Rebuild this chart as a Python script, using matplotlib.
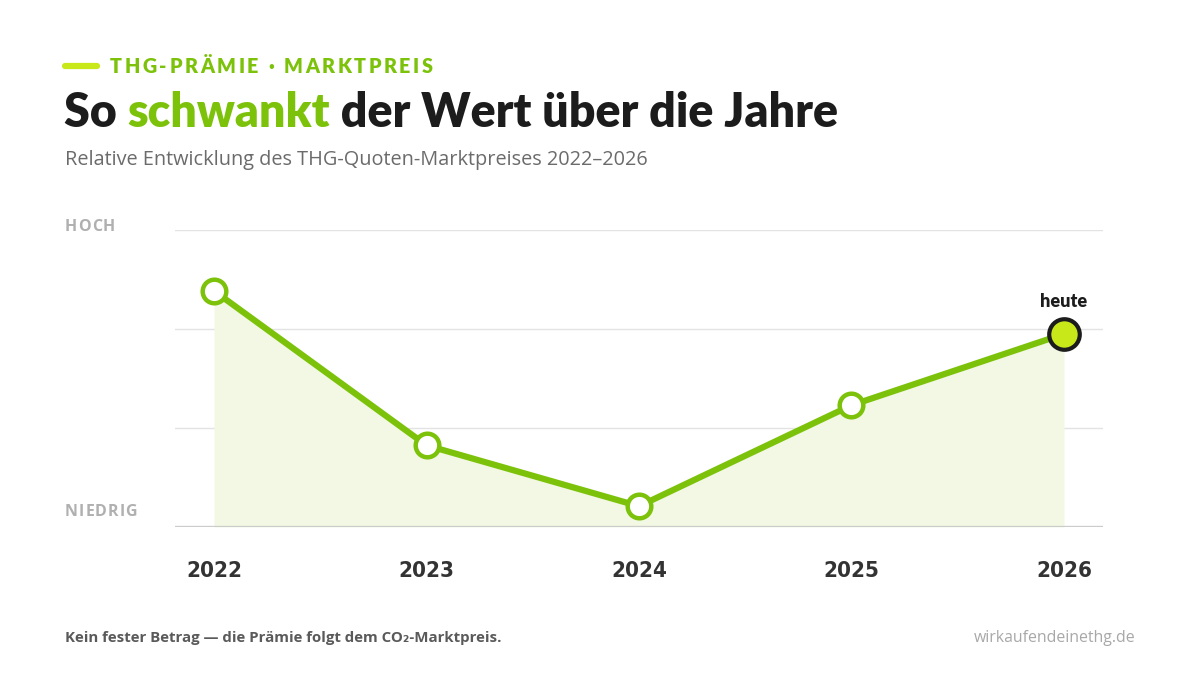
import matplotlib
matplotlib.use("Agg")
import matplotlib.pyplot as plt
from matplotlib.lines import Line2D

# ---- data ----
years = [2022, 2023, 2024, 2025, 2026]
values = [79.5, 27.5, 7.0, 41.0, 65.0]   # relative market price (0 = niedrig, 100 = hoch)
year_labels = ["2022", "2023", "2024", "2025", "2026"]
kicker = "THG-PRÄMIE · MARKTPREIS"
title_parts = ["So ", "schwankt", " der Wert über die Jahre"]
subtitle = "Relative Entwicklung des THG-Quoten-Marktpreises 2022–2026"
label_high = "HOCH"
label_low = "NIEDRIG"
footer_left = "Kein fester Betrag — die Prämie folgt dem CO₂-Marktpreis."
footer_right = "wirkaufendeinethg.de"
today_label = "heute"

GREEN = "#7cc20a"
LIME = "#c8e81a"
FILL = "#f2f8e4"
DARK = "#1c1c1c"

W, H = 1200, 675
fig = plt.figure(figsize=(W / 100, H / 100), dpi=100)
fig.patch.set_facecolor("white")
renderer = fig.canvas.get_renderer()


def px(x, y):
    return x / W, 1 - y / H


def width_px(s, **kw):
    t = fig.text(0, 0, s, **kw)
    w = t.get_window_extent(renderer).width
    t.remove()
    return w


def advance(s, **kw):
    return width_px("|" + s + "|", **kw) - width_px("||", **kw)


def spaced_text(x, y, s, spacing, **kw):
    for ch in s:
        fig.text(*px(x, y), ch, va="baseline", ha="left", **kw)
        x += advance(ch, **kw) + spacing
    return x


# ---- header ----
fig.add_artist(Line2D([65 / W, 97 / W], [1 - 66 / H, 1 - 66 / H], color=LIME,
                      lw=4.5, solid_capstyle="round", transform=fig.transFigure))
spaced_text(110, 73, kicker, 2.6, fontsize=14.2, fontweight="heavy",
            family=["Lato", "DejaVu Sans"], color=GREEN)

tkw = dict(fontsize=33.5, fontweight="heavy", family=["Lato", "DejaVu Sans"])
x = 64
for i, part in enumerate(title_parts):
    col = GREEN if i == 1 else DARK
    fig.text(*px(x, 127), part, va="baseline", ha="left", color=col, **tkw)
    x += advance(part, **tkw)

fig.text(*px(65, 165), subtitle, va="baseline", ha="left", fontsize=14.3,
         family=["Open Sans", "DejaVu Sans"], color="#6b6b6b")

# ---- axis labels HOCH / NIEDRIG ----
lkw = dict(fontsize=11.5, fontweight="bold", family=["Open Sans", "DejaVu Sans"], color="#b0b0b0")
spaced_text(65, 231, label_high, 1.0, **lkw)
spaced_text(65, 516, label_low, 1.0, **lkw)

# ---- chart ----
x0, x1 = 175, 1103
y_top, y_bot = 230, 527
ax = fig.add_axes([x0 / W, 1 - y_bot / H, (x1 - x0) / W, (y_bot - y_top) / H])
ax.set_xlim(years[0] - 39 / 212.5, years[-1] + 39 / 212.5)
ax.set_ylim(0, 100)
for s in ax.spines.values():
    s.set_visible(False)
ax.set_xticks([])
ax.set_yticks([])
for g in [100 / 3, 200 / 3, 100]:
    ax.axhline(g, color="#e3e3e3", lw=1.0, zorder=1)
ax.axhline(0, color="#cccccc", lw=2.4, zorder=2)

ax.fill_between(years, values, 0, color=FILL, lw=0, zorder=1.5)
ax.plot(years, values, color=GREEN, lw=4.5, solid_joinstyle="round",
        solid_capstyle="round", zorder=3)
ax.plot(years[:-1], values[:-1], "o", ms=17, mfc="white", mec=GREEN, mew=3.2,
        zorder=4, clip_on=False)
ax.plot(years[-1:], values[-1:], "o", ms=22, mfc=LIME, mec=DARK, mew=3.0,
        zorder=5, clip_on=False)
ax.annotate(today_label, (years[-1], values[-1]), xytext=(0, 17), textcoords="offset points",
            ha="center", va="bottom", fontsize=13, fontweight="heavy",
            family=["Lato", "DejaVu Sans"], color=DARK)

# year labels
for yr, lab in zip(years, year_labels):
    ax.annotate(lab, (yr, 0), xytext=(0, -32), textcoords="offset points",
                ha="center", va="center", fontsize=16, fontweight="bold",
                family="DejaVu Sans", fontstretch="condensed", color="#333333",
                annotation_clip=False)

# ---- footer ----
fig.text(*px(65, 642), footer_left, va="baseline", ha="left", fontsize=10.8,
         fontweight="bold", family=["Open Sans", "DejaVu Sans"], color="#5a5a5a")
fig.text(*px(1135, 642), footer_right, va="baseline", ha="right", fontsize=11.4,
         family=["Open Sans", "DejaVu Sans"], color="#a8a8a8")

fig.savefig("out.png", dpi=100, facecolor="white")
